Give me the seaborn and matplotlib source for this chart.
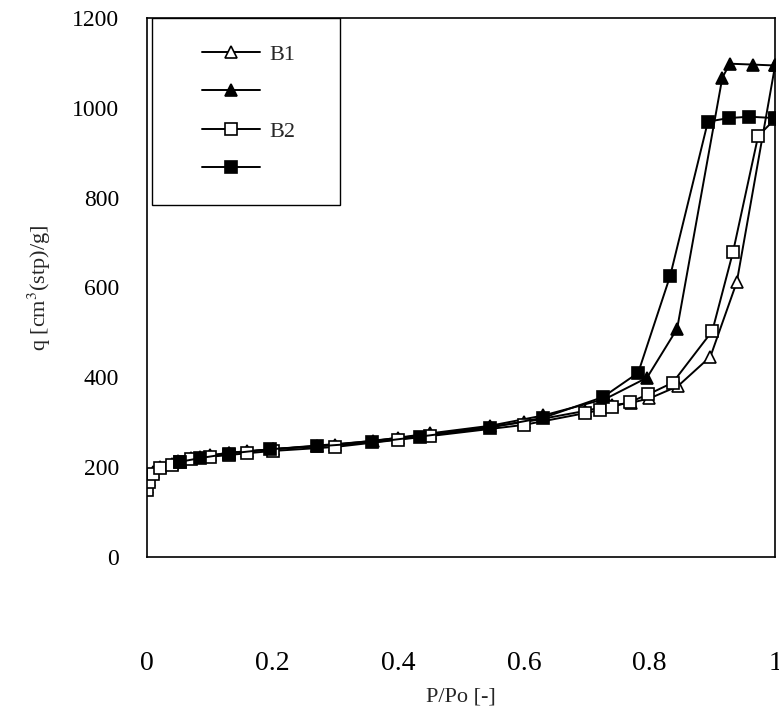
import seaborn as sns
import matplotlib.pyplot as plt
import matplotlib.patches as mpatches
import numpy as np
import pandas as pd

#Data
#B1 adsorption (open triangles)
b1AdsX = [0.0, 0.003, 0.01, 0.02, 0.04, 0.07, 0.10, 0.13, 0.16, 0.20, 0.30, 0.40, 0.45, 0.60, 0.697, 0.74, 0.77, 0.80, 0.845, 0.897, 0.939, 1.0]
b1AdsY = [155, 172, 190, 200, 208, 220, 226, 232, 235, 240, 250, 265, 273, 300, 325, 338, 343, 353, 380, 446, 612, 1094]
#B1 desorption (filled triangles)
b1DesX = [1.0, 0.965, 0.928, 0.916, 0.844, 0.796, 0.73, 0.631, 0.546, 0.45, 0.36, 0.27, 0.20, 0.13, 0.085, 0.05]
b1DesY = [1094, 1096, 1098, 1067, 508, 399, 352, 315, 292, 275, 258, 248, 240, 232, 222, 214]
#B2 adsorption (open squares)
b2AdsX = [0.0, 0.003, 0.01, 0.02, 0.04, 0.053, 0.07, 0.10, 0.13, 0.16, 0.20, 0.30, 0.40, 0.45, 0.60, 0.697, 0.721, 0.74, 0.769, 0.798, 0.837, 0.90, 0.933, 0.973, 1.0]
b2AdsY = [148, 168, 185, 198, 205, 212, 218, 223, 227, 231, 236, 245, 261, 269, 294, 320, 327, 334, 345, 362, 388, 503, 679, 937, 975]
#B2 desorption (filled squares)
b2DesX = [1.0, 0.959, 0.926, 0.893, 0.833, 0.782, 0.726, 0.631, 0.546, 0.435, 0.358, 0.27, 0.196, 0.13, 0.084, 0.053]
b2DesY = [977, 980, 977, 969, 626, 410, 356, 310, 288, 268, 255, 246, 240, 230, 220, 212]

legendLabels = ['B1', '', 'B2', '']
xTicks = [0, 0.2, 0.4, 0.6, 0.8, 1]
xTickLabels = ['0', '0.2', '0.4', '0.6', '0.8', '1']
yTicks = [0, 200, 400, 600, 800, 1000, 1200]

#%%
sns.set_style("white")
plt.rcParams['font.family'] = ['Liberation Serif', 'DejaVu Serif']
plt.rcParams['mathtext.fontset'] = 'stix'

fig = plt.figure(figsize=(7.79, 7.15), dpi=100)
ax = fig.add_axes([0.1887, 0.221, 0.8063, 0.754])

seriesList = [(b1AdsX, b1AdsY, '^', 'white'),
              (b1DesX, b1DesY, '^', 'black'),
              (b2AdsX, b2AdsY, 's', 'white'),
              (b2DesX, b2DesY, 's', 'black')]
handles = []
for xs, ys, mk, fc in seriesList:
    sns.lineplot(x=xs, y=ys, ax=ax, sort=False, estimator=None, color='black', lw=1.4,
                 marker=mk, markersize=9, markerfacecolor=fc, markeredgecolor='black', markeredgewidth=1.2)
    handles.append(ax.lines[-1])

ax.set_xlim(0, 1)
ax.set_ylim(0, 1200)
ax.set_xticks(xTicks)
ax.set_xticklabels(xTickLabels)
ax.set_yticks(yTicks)
ax.tick_params(axis='x', direction='in', length=9, width=1, pad=68, labelsize=20, colors='black')
ax.tick_params(axis='y', direction='out', length=10, width=1, pad=10, labelsize=17, colors='black')
for s in ax.spines.values():
    s.set_color('black')
    s.set_linewidth(1.2)

ax.set_xlabel('P/Po [-]', fontsize=16, labelpad=8)
ax.set_ylabel(r'q [cm$^{3}$(stp)/g]', fontsize=16, labelpad=14)

#legend box drawn separately so the entries can sit well inside it
legBox = mpatches.Rectangle((0.008, 0.653), 0.299, 0.347, transform=ax.transAxes,
                            facecolor='white', edgecolor='black', lw=1.0, zorder=4)
ax.add_patch(legBox)
leg = ax.legend(handles, legendLabels, loc='upper left', bbox_to_anchor=(0.2593, 0.938),
                bbox_transform=fig.transFigure, borderaxespad=0, borderpad=0,
                fontsize=16, frameon=False, handlelength=2.6, handletextpad=0.45, labelspacing=0.8)
leg.set_zorder(5)

plt.savefig('out.png', dpi=100)
